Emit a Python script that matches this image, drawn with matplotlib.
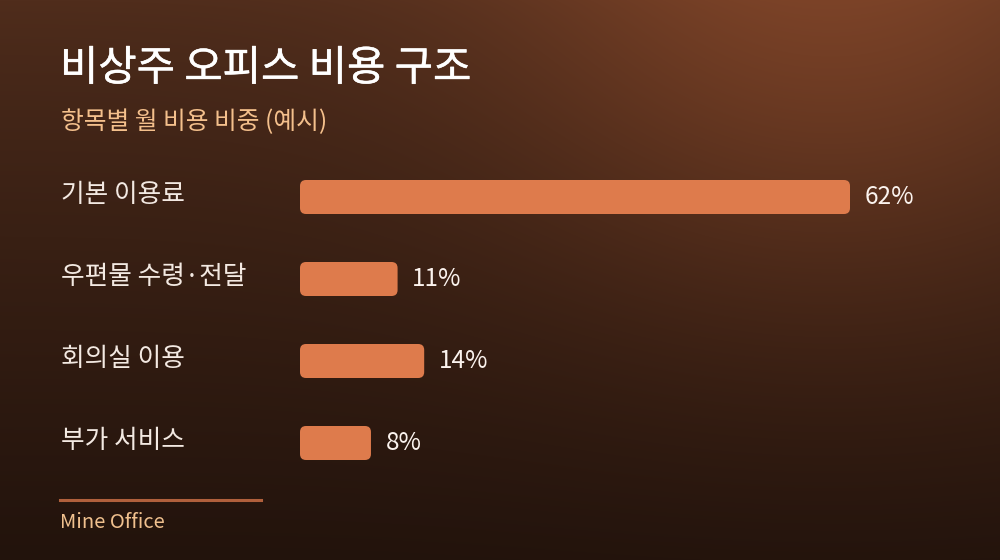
import numpy as np
import matplotlib
matplotlib.use("Agg")
import matplotlib.pyplot as plt
import matplotlib.patheffects as pe
from matplotlib.patches import FancyBboxPatch
from matplotlib.transforms import blended_transform_factory

plt.rcParams['font.family'] = ['Noto Sans CJK KR', 'DejaVu Sans']

# data
title = "비상주 오피스 비용 구조"
subtitle = "항목별 월 비용 비중 (예시)"
categories = ["기본 이용료", "우편물 수령·전달", "회의실 이용", "부가 서비스"]
values = [62, 11, 14, 8]
footer = "Mine Office"

W, H = 1000, 560
fig = plt.figure(figsize=(W / 100, H / 100), dpi=100)

# background gradient with warm glow top-right
yy, xx = np.mgrid[0:H, 0:W].astype(float)
top = np.array([0x50, 0x2d, 0x1c]) / 255
bot = np.array([0x22, 0x13, 0x0c]) / 255
t = (yy / H) ** 0.8
bg = top[None, None, :] * (1 - t[..., None]) + bot[None, None, :] * t[..., None]
d2 = ((xx - 830) ** 2 + (yy + 10) ** 2) / 330 ** 2
glow = np.exp(-d2)[..., None] * (np.array([0x2c, 0x16, 0x0c]) / 255)
bg = np.clip(bg + glow, 0, 1)
bga = fig.add_axes([0, 0, 1, 1])
bga.imshow(bg, aspect='auto', extent=[0, 1, 0, 1], origin='upper')
bga.axis('off')

# bar axes: 0..max maps to x 300..850 px
x0, x1 = 300, 850
xmax = max(values) * (W - x0) / (x1 - x0)
ax = fig.add_axes([x0 / W, (H - 484) / H, 1 - x0 / W, 328 / H])
ax.set_xlim(0, xmax)
ax.set_ylim(len(values) - 0.5, -0.5)
ax.axis('off')
ax.patch.set_alpha(0)

bar_h = 34 / 82
bars = ax.barh(range(len(values)), values, height=bar_h, color='none')
px_x = xmax / (W - x0)
px_y = 1 / 82
for b in bars:
    bx, by = b.get_x(), b.get_y()
    bw, bh = b.get_width(), b.get_height()
    ax.add_patch(FancyBboxPatch((bx, by), bw, bh,
                                boxstyle=f"round,pad=0,rounding_size={6 * px_x}",
                                mutation_aspect=px_y / px_x,
                                facecolor='#de7b4c', edgecolor='none'))

tr = blended_transform_factory(fig.transFigure, ax.transData)
for i, (c, v) in enumerate(zip(categories, values)):
    ax.text(61 / W, i - 0.02, c, transform=tr, ha='left', va='center',
            fontsize=18.5, color='#f3e9e2')
    ax.annotate(f"{v}%", (v, i), xytext=(10.5, 0), textcoords='offset points',
                ha='left', va='center', fontsize=17.5, color='#fbf3ee')

fig.text(60 / W, 1 - 69 / H, title, ha='left', va='center',
         fontsize=30, color='white',
         path_effects=[pe.withStroke(linewidth=0.35, foreground='white')])
fig.text(61 / W, 1 - 122 / H, subtitle, ha='left', va='center',
         fontsize=17.8, color='#f4c08c')

fig.add_artist(plt.Line2D([60 / W, 261 / W], [1 - 500 / H] * 2,
                          color='#b0603c', lw=2.2, transform=fig.transFigure))
fig.text(60 / W, 1 - 522 / H, footer, ha='left', va='center',
         fontsize=14.5, color='#f0c08e')

fig.savefig("out.png", dpi=100)
